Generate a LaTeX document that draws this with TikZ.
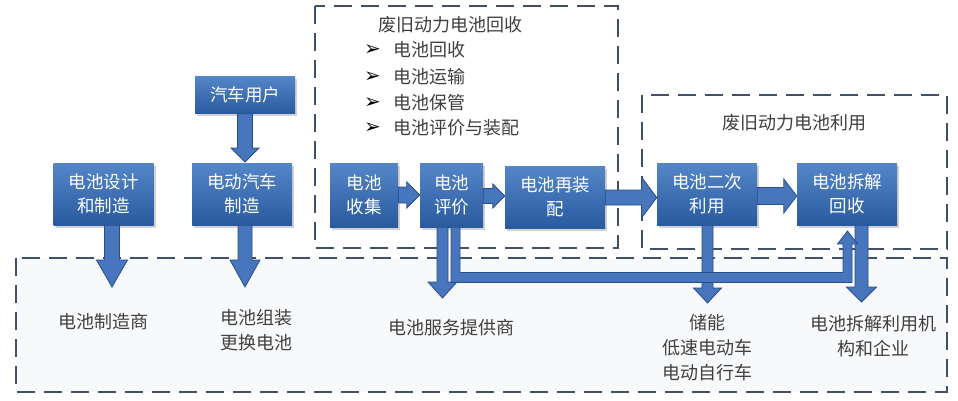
\documentclass[tikz,border=0pt]{standalone}
\usepackage{fontspec}
\setmainfont{Noto Sans CJK SC}
\newfontfamily\dejavu{DejaVu Sans}
\usetikzlibrary{calc,shadows}
\definecolor{dashc}{RGB}{64,80,104}
\definecolor{txtc}{RGB}{64,64,64}
\definecolor{ntop}{RGB}{84,134,200}
\definecolor{nbot}{RGB}{42,90,158}
\definecolor{afill}{RGB}{72,118,188}
\definecolor{aline}{RGB}{40,78,138}
\definecolor{boxbg}{RGB}{248,249,251}
\tikzset{
  dbox/.style={draw=dashc,line width=2.8pt,dash pattern=on 18pt off 9pt},
  bnode/.style={top color=ntop,bottom color=nbot,text=white,inner sep=0pt,align=center,
     font=\fontsize{17.5}{24}\selectfont,
     drop shadow={shadow xshift=2pt,shadow yshift=-2.5pt,opacity=0.35}},
  lbl/.style={text=txtc,inner sep=0pt,align=center,font=\fontsize{18}{25}\selectfont},
  bul/.style={text=black,inner sep=0pt,anchor=west,font=\dejavu\fontsize{20}{22}\selectfont},
  blk/.style={fill=afill,draw=aline,line width=0.8pt,line join=miter}
}
% downward block arrow: start, tip, shaft half, head half, head length
\newcommand\blkdown[5]{\filldraw[blk] let \p1=(#1), \p2=(#2) in
  (\x1-#3pt,\y1) -- (\x1-#3pt,\y2+#5pt) -- (\x1-#4pt,\y2+#5pt) -- (\x1,\y2)
  -- (\x1+#4pt,\y2+#5pt) -- (\x1+#3pt,\y2+#5pt) -- (\x1+#3pt,\y1) -- cycle;}
% rightward block arrow: start, tip, shaft half, head half, head length
\newcommand\blkright[5]{\filldraw[blk] let \p1=(#1), \p2=(#2) in
  (\x1,\y1+#3pt) -- (\x2-#5pt,\y1+#3pt) -- (\x2-#5pt,\y1+#4pt) -- (\x2,\y1)
  -- (\x2-#5pt,\y1-#4pt) -- (\x2-#5pt,\y1-#3pt) -- (\x1,\y1-#3pt) -- cycle;}
\begin{document}
\begin{tikzpicture}[x=1pt,y=-1pt]
\useasboundingbox[fill=white] (0,0) rectangle (958,400);
% dashed regions
\fill[boxbg] (16,258) rectangle (947,392);
\draw[dbox] (16,258) rectangle (947,392);
\draw[dbox] (315,6) rectangle (618,248);
\draw[dbox] (642,95) rectangle (947,249);
% titles and bullets
\node[lbl,anchor=west] (titleA) at (378,25) {废旧动力电池回收};
\node[bul] (b1) at (364,50) {➢};
\node[bul] (b2) at (364,77) {➢};
\node[bul] (b3) at (364,103) {➢};
\node[bul] (b4) at (364,128) {➢};
\node[lbl,anchor=west] (i1) at (393,50) {电池回收};
\node[lbl,anchor=west] (i2) at (393,77) {电池运输};
\node[lbl,anchor=west] (i3) at (393,103) {电池保管};
\node[lbl,anchor=west] (i4) at (393,128) {电池评价与装配};
\node[lbl] (titleB) at (794,123) {废旧动力电池利用};
% blue nodes
\node[bnode,minimum width=100pt,minimum height=37pt] (user) at (245,95) {汽车用户};
\node[bnode,minimum width=100pt,minimum height=62pt] (design) at (103.5,194) {电池设计\\和制造};
\node[bnode,minimum width=100pt,minimum height=62pt] (evmfg) at (242,194) {电动汽车\\制造};
\node[bnode,minimum width=68pt,minimum height=64pt] (collect) at (364,195) {电池\\收集};
\node[bnode,minimum width=63pt,minimum height=64pt] (eval) at (451.5,195) {电池\\评价};
\node[bnode,minimum width=100pt,minimum height=62pt] (reasm) at (555,197) {电池再装\\配};
\node[bnode,minimum width=100pt,minimum height=62pt] (second) at (707,194) {电池二次\\利用};
\node[bnode,minimum width=100pt,minimum height=62pt] (dismantle) at (847,194) {电池拆解\\回收};
% bottom labels
\node[lbl] (l1) at (103,322) {电池制造商};
\node[lbl] (l2) at (256,330.5) {电池组装\\更换电池};
\node[lbl] (l3) at (451,328) {电池服务提供商};
\node[lbl] (l4) at (707,348) {储能\\低速电动车\\电动自行车};
\node[lbl] (l5) at (873,336.5) {电池拆解利用机\\构和企业};
% free ends
\coordinate (tUser) at (245,162);
\coordinate (tDesign) at (112,287);
\coordinate (tEv) at (245,287);
\coordinate (tEval) at (442.5,298);
\coordinate (tSecond) at (707.5,303);
\coordinate (tDis) at (861.5,302);
\coordinate (bend) at (0,277.5);
\coordinate (upTip) at (847.5,231);
% arrows
\blkdown{$(user.south)$}{tUser}{7.5}{14}{14}
\blkdown{$(design.south)+(8.5,0)$}{tDesign}{7.5}{15.5}{27}
\blkdown{$(evmfg.south)+(3,0)$}{tEv}{7}{15}{27}
\blkdown{$(eval.south)+(-9,0)$}{tEval}{5.5}{14.5}{16}
\blkdown{$(second.south)+(0.5,0)$}{tSecond}{5.5}{14}{15}
\blkdown{$(dismantle.south)+(14.5,0)$}{tDis}{6.5}{15}{15}
\blkright{$(collect.east)+(0,0)$}{$(eval.west)$}{8}{13}{13}
\blkright{$(eval.east)+(0,1)$}{$(reasm.west)$}{7.5}{12}{12}
\blkright{$(reasm.east)+(0,0.5)$}{$(second.west)$}{7.5}{20}{15}
\blkright{$(second.east)+(0,2)$}{$(dismantle.west)$}{8.5}{17}{13}
\filldraw[blk] let \p1=($(eval.south)+(4,0)$), \p2=(bend), \p3=(upTip) in
  (\x1-4.5pt,\y1) -- (\x1-4.5pt,\y2-5pt) -- (\x3+4.5pt,\y2-5pt) -- (\x3+4.5pt,\y3-13pt)
  -- (\x3+10pt,\y3-13pt) -- (\x3,\y3) -- (\x3-10pt,\y3-13pt) -- (\x3-4.5pt,\y3-13pt)
  -- (\x3-4.5pt,\y2+5pt) -- (\x1+4.5pt,\y2+5pt) -- (\x1+4.5pt,\y1) -- cycle;
\end{tikzpicture}
\end{document}
